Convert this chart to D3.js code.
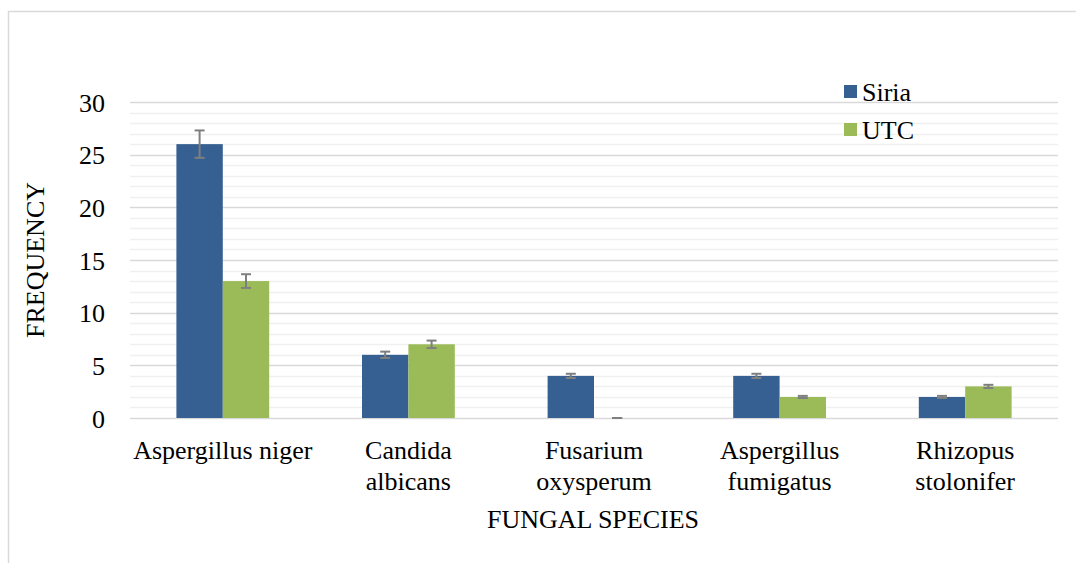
<!DOCTYPE html>
<html><head><meta charset="utf-8">
<script src="https://cdn.jsdelivr.net/npm/d3@7"></script>
</head><body style="margin:0;background:#fff"><svg id="c" width="1076" height="563" style="display:block"></svg>
<script>
const categories = [["Aspergillus niger"],["Candida","albicans"],["Fusarium","oxysperum"],["Aspergillus","fumigatus"],["Rhizopus","stolonifer"]];
const seriesNames = ["Siria","UTC"];
const siria = [26,6,4,4,2];
const utc = [13,7,0,2,3];
const errPct = 0.05;
const yTicks = [0,5,10,15,20,25,30];
const colors = ["#376092","#9bbb59"];
const FONT = "'Liberation Serif', 'Times New Roman', serif";
const FS = 26;

const svg = d3.select("#c");
svg.append("rect").attr("x",8.5).attr("y",11.5).attr("width",1100).attr("height",600).attr("fill","none").attr("stroke","#d9d9d9").attr("stroke-width",1.5);

const L=130,R=1058,T=102,B=418;
const x = d3.scaleBand().domain(d3.range(categories.length)).range([L,R]);
const y = d3.scaleLinear().domain([0,30]).range([B,T]);
const inner = d3.scaleBand().domain(seriesNames).range([0,x.bandwidth()]).paddingInner(0).paddingOuter(1);

svg.append("g").selectAll("line").data(d3.range(0,31).filter(v=>v%5!==0)).join("line")
  .attr("x1",L).attr("x2",R).attr("y1",d=>Math.round(y(d))+0.5).attr("y2",d=>Math.round(y(d))+0.5)
  .attr("stroke","#f0f0f0").attr("stroke-width",1.5);
svg.append("g").selectAll("line").data(yTicks).join("line")
  .attr("x1",L).attr("x2",R).attr("y1",d=>Math.round(y(d))+0.5).attr("y2",d=>Math.round(y(d))+0.5)
  .attr("stroke","#d9d9d9").attr("stroke-width",1.5);

const ya = svg.append("g").attr("transform",`translate(${L-25},0)`).call(d3.axisLeft(y).tickValues(yTicks).tickSize(0).tickPadding(0));
ya.attr("font-family",FONT).attr("font-size",FS);
ya.select(".domain").remove();
ya.selectAll("text").attr("fill","#000").attr("dy","0.35em");

const data = [siria, utc];
data.forEach((vals,si)=>{
  const g = svg.append("g");
  g.selectAll("rect").data(vals).join("rect")
    .attr("x",(d,i)=>x(i)+inner(seriesNames[si]))
    .attr("y",d=>y(d)).attr("width",inner.bandwidth()).attr("height",d=>y(0)-y(d))
    .attr("fill",colors[si]);
  const eb = g.append("g").attr("stroke","#7f7f7f").attr("stroke-width",2);
  vals.forEach((d,i)=>{
    const cx = x(i)+inner(seriesNames[si])+inner.bandwidth()/2;
    const e = d*errPct;
    eb.append("line").attr("x1",cx).attr("x2",cx).attr("y1",y(d+e)).attr("y2",y(d-e));
    eb.append("line").attr("x1",cx-5).attr("x2",cx+5).attr("y1",y(d+e)).attr("y2",y(d+e));
    eb.append("line").attr("x1",cx-5).attr("x2",cx+5).attr("y1",y(d-e)).attr("y2",y(d-e));
  });
});

function txt(){ return svg.append("text").attr("font-family",FONT).attr("font-size",FS).attr("fill","#000"); }

categories.forEach((lines,i)=>{
  const t = txt().attr("x",x(i)+x.bandwidth()/2).attr("y",459).attr("text-anchor","middle");
  lines.forEach((l,j)=>t.append("tspan").attr("x",x(i)+x.bandwidth()/2).attr("dy",j?31:0).text(l));
});

txt().attr("x",593).attr("y",528).attr("text-anchor","middle").text("FUNGAL SPECIES");
txt().attr("transform","translate(44,260) rotate(-90)").attr("text-anchor","middle").text("FREQUENCY");

seriesNames.forEach((n,i)=>{
  const ly = 92 + i*38;
  svg.append("rect").attr("x",844).attr("y",ly-7).attr("width",13).attr("height",13).attr("fill",colors[i]);
  txt().attr("x",862).attr("y",ly).attr("dy","0.35em").text(n);
});
</script></body></html>
